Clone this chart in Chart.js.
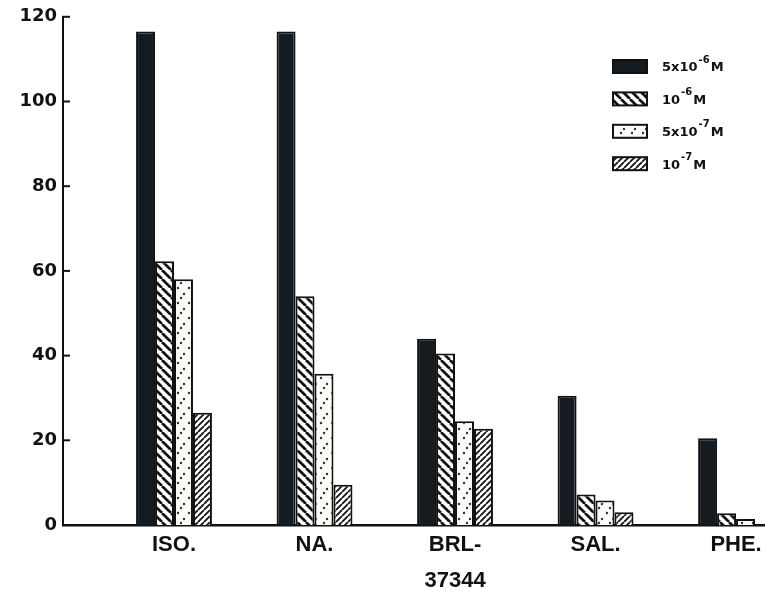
<!DOCTYPE html>
<html>
<head>
<meta charset="utf-8">
<script src="https://cdn.jsdelivr.net/npm/chart.js@4/dist/chart.umd.min.js"></script>
<style>
  html, body { margin: 0; padding: 0; background: #fff; }
  #wrap { width: 765px; height: 605px; position: relative; }
</style>
</head>
<body>
<div id="wrap"><canvas id="chart"></canvas></div>
<script>
// categories along the x axis (BRL-37344 breaks over two lines)
const categories = ['ISO.', 'NA.', ['BRL-', '37344'], 'SAL.', 'PHE.'];

// legend text: base + superscript exponent + unit
const seriesBase = ['5x10', '10', '5x10', '10'];
const seriesExp = ['-6', '-6', '-7', '-7'];

// values
const conc5e6 = [116.5, 116.5, 44, 30.5, 20.5];
const conc1e6 = [62.3, 54, 40.5, 7.2, 2.8];
const conc5e7 = [58, 35.7, 24.5, 5.8, 1.4];
const conc1e7 = [26.5, 9.5, 22.7, 3, 0];

const yTicks = [0, 20, 40, 60, 80, 100, 120];

function makeHatch(period, lineWidth, direction) {
    const c = document.createElement('canvas');
    c.width = period;
    c.height = period;
    const g = c.getContext('2d');
    g.fillStyle = '#fff';
    g.fillRect(0, 0, period, period);
    g.strokeStyle = '#111';
    g.lineWidth = lineWidth;
    g.beginPath();
    for (const k of [-period, 0, period]) {
        if (direction === 'down') {
            g.moveTo(k, 0);
            g.lineTo(k + period, period);
        } else {
            g.moveTo(k, period);
            g.lineTo(k + period, 0);
        }
    }
    g.stroke();
    return g.createPattern(c, 'repeat');
}

function makeStipple() {
    const c = document.createElement('canvas');
    c.width = 11;
    c.height = 15;
    const g = c.getContext('2d');
    g.fillStyle = '#fbfbf8';
    g.fillRect(0, 0, 11, 15);
    g.fillStyle = '#333';
    for (const [x, y] of [[2, 3], [8, 9], [5, 13]]) {
        g.beginPath();
        g.arc(x, y, 1.2, 0, Math.PI * 2);
        g.fill();
    }
    return g.createPattern(c, 'repeat');
}

const fills = ['#141c22', makeHatch(9, 2.7, 'down'), makeStipple(), makeHatch(6, 1.8, 'up')];
const seriesValues = [conc5e6, conc1e6, conc5e7, conc1e7];

function toPoints(values) {
    return values.map((v, i) => ({ x: i, y: v }));
}

// inward tick marks on the y axis
const innerTicks = {
    id: 'innerTicks',
    afterDraw(chart) {
        const ctx = chart.ctx;
        const y = chart.scales.y;
        ctx.save();
        ctx.strokeStyle = '#111';
        ctx.lineWidth = 2;
        for (const t of y.ticks) {
            if (t.value === 0) continue;
            const py = y.getPixelForValue(t.value);
            ctx.beginPath();
            ctx.moveTo(y.right - 1, py);
            ctx.lineTo(y.right + 7, py);
            ctx.stroke();
        }
        ctx.restore();
    }
};

// legend drawn inside the plot with superscript exponents
const floatingLegend = {
    id: 'floatingLegend',
    afterDraw(chart) {
        const ctx = chart.ctx;
        ctx.save();
        chart.data.datasets.forEach((ds, i) => {
            const cy = 67 + i * 32.4;
            ctx.fillStyle = ds.backgroundColor;
            ctx.fillRect(613, cy - 7, 34, 13);
            ctx.strokeStyle = '#111';
            ctx.lineWidth = 2;
            ctx.strokeRect(613, cy - 7, 34, 13);

            ctx.fillStyle = '#111';
            ctx.textBaseline = 'middle';
            ctx.font = 'bold 13px "DejaVu Sans"';
            let x = 662;
            ctx.fillText(seriesBase[i], x, cy + 1);
            x += ctx.measureText(seriesBase[i]).width + 1;
            ctx.font = 'bold 10px "DejaVu Sans"';
            ctx.fillText(seriesExp[i], x, cy - 7);
            x += ctx.measureText(seriesExp[i]).width + 1;
            ctx.font = 'bold 13px "DejaVu Sans"';
            ctx.fillText('M', x, cy + 1);
        });
        ctx.restore();
    }
};

new Chart(document.getElementById('chart'), {
    type: 'bar',
    data: {
        datasets: seriesValues.map((values, i) => ({
            label: seriesBase[i] + seriesExp[i] + 'M',
            data: toPoints(values),
            backgroundColor: fills[i],
            borderColor: '#111',
            borderWidth: 2,
            barPercentage: 1,
            categoryPercentage: 0.54
        }))
    },
    options: {
        responsive: true,
        maintainAspectRatio: false,
        animation: false,
        layout: { padding: { top: 13, right: 0, left: 0, bottom: 0 } },
        plugins: {
            legend: { display: false },
            tooltip: { enabled: false }
        },
        scales: {
            x: {
                type: 'linear',
                offset: false,
                min: -0.79,
                max: 4.206,
                afterBuildTicks: (scale) => {
                    scale.ticks = categories.map((c, i) => ({ value: i }));
                },
                afterFit: (scale) => { scale.height = 80; },
                grid: { display: false, drawTicks: false },
                border: { display: true, color: '#111', width: 2.5 },
                ticks: {
                    autoSkip: false,
                    maxRotation: 0,
                    padding: 2,
                    color: '#111',
                    font: { family: '"Liberation Sans", Arial, sans-serif', size: 22, weight: 'bold', lineHeight: 1.62 },
                    callback: (value) => categories[value]
                }
            },
            y: {
                min: 0,
                max: 120,
                afterBuildTicks: (scale) => {
                    scale.ticks = yTicks.map((v) => ({ value: v }));
                },
                afterFit: (scale) => { scale.width = 63; },
                grid: { display: false, drawTicks: false },
                border: { display: true, color: '#111', width: 2 },
                ticks: {
                    padding: 6,
                    color: '#111',
                    font: { family: '"DejaVu Sans", sans-serif', size: 18, weight: 'bold' }
                }
            }
        }
    },
    plugins: [innerTicks, floatingLegend]
});
</script>
</body>
</html>
